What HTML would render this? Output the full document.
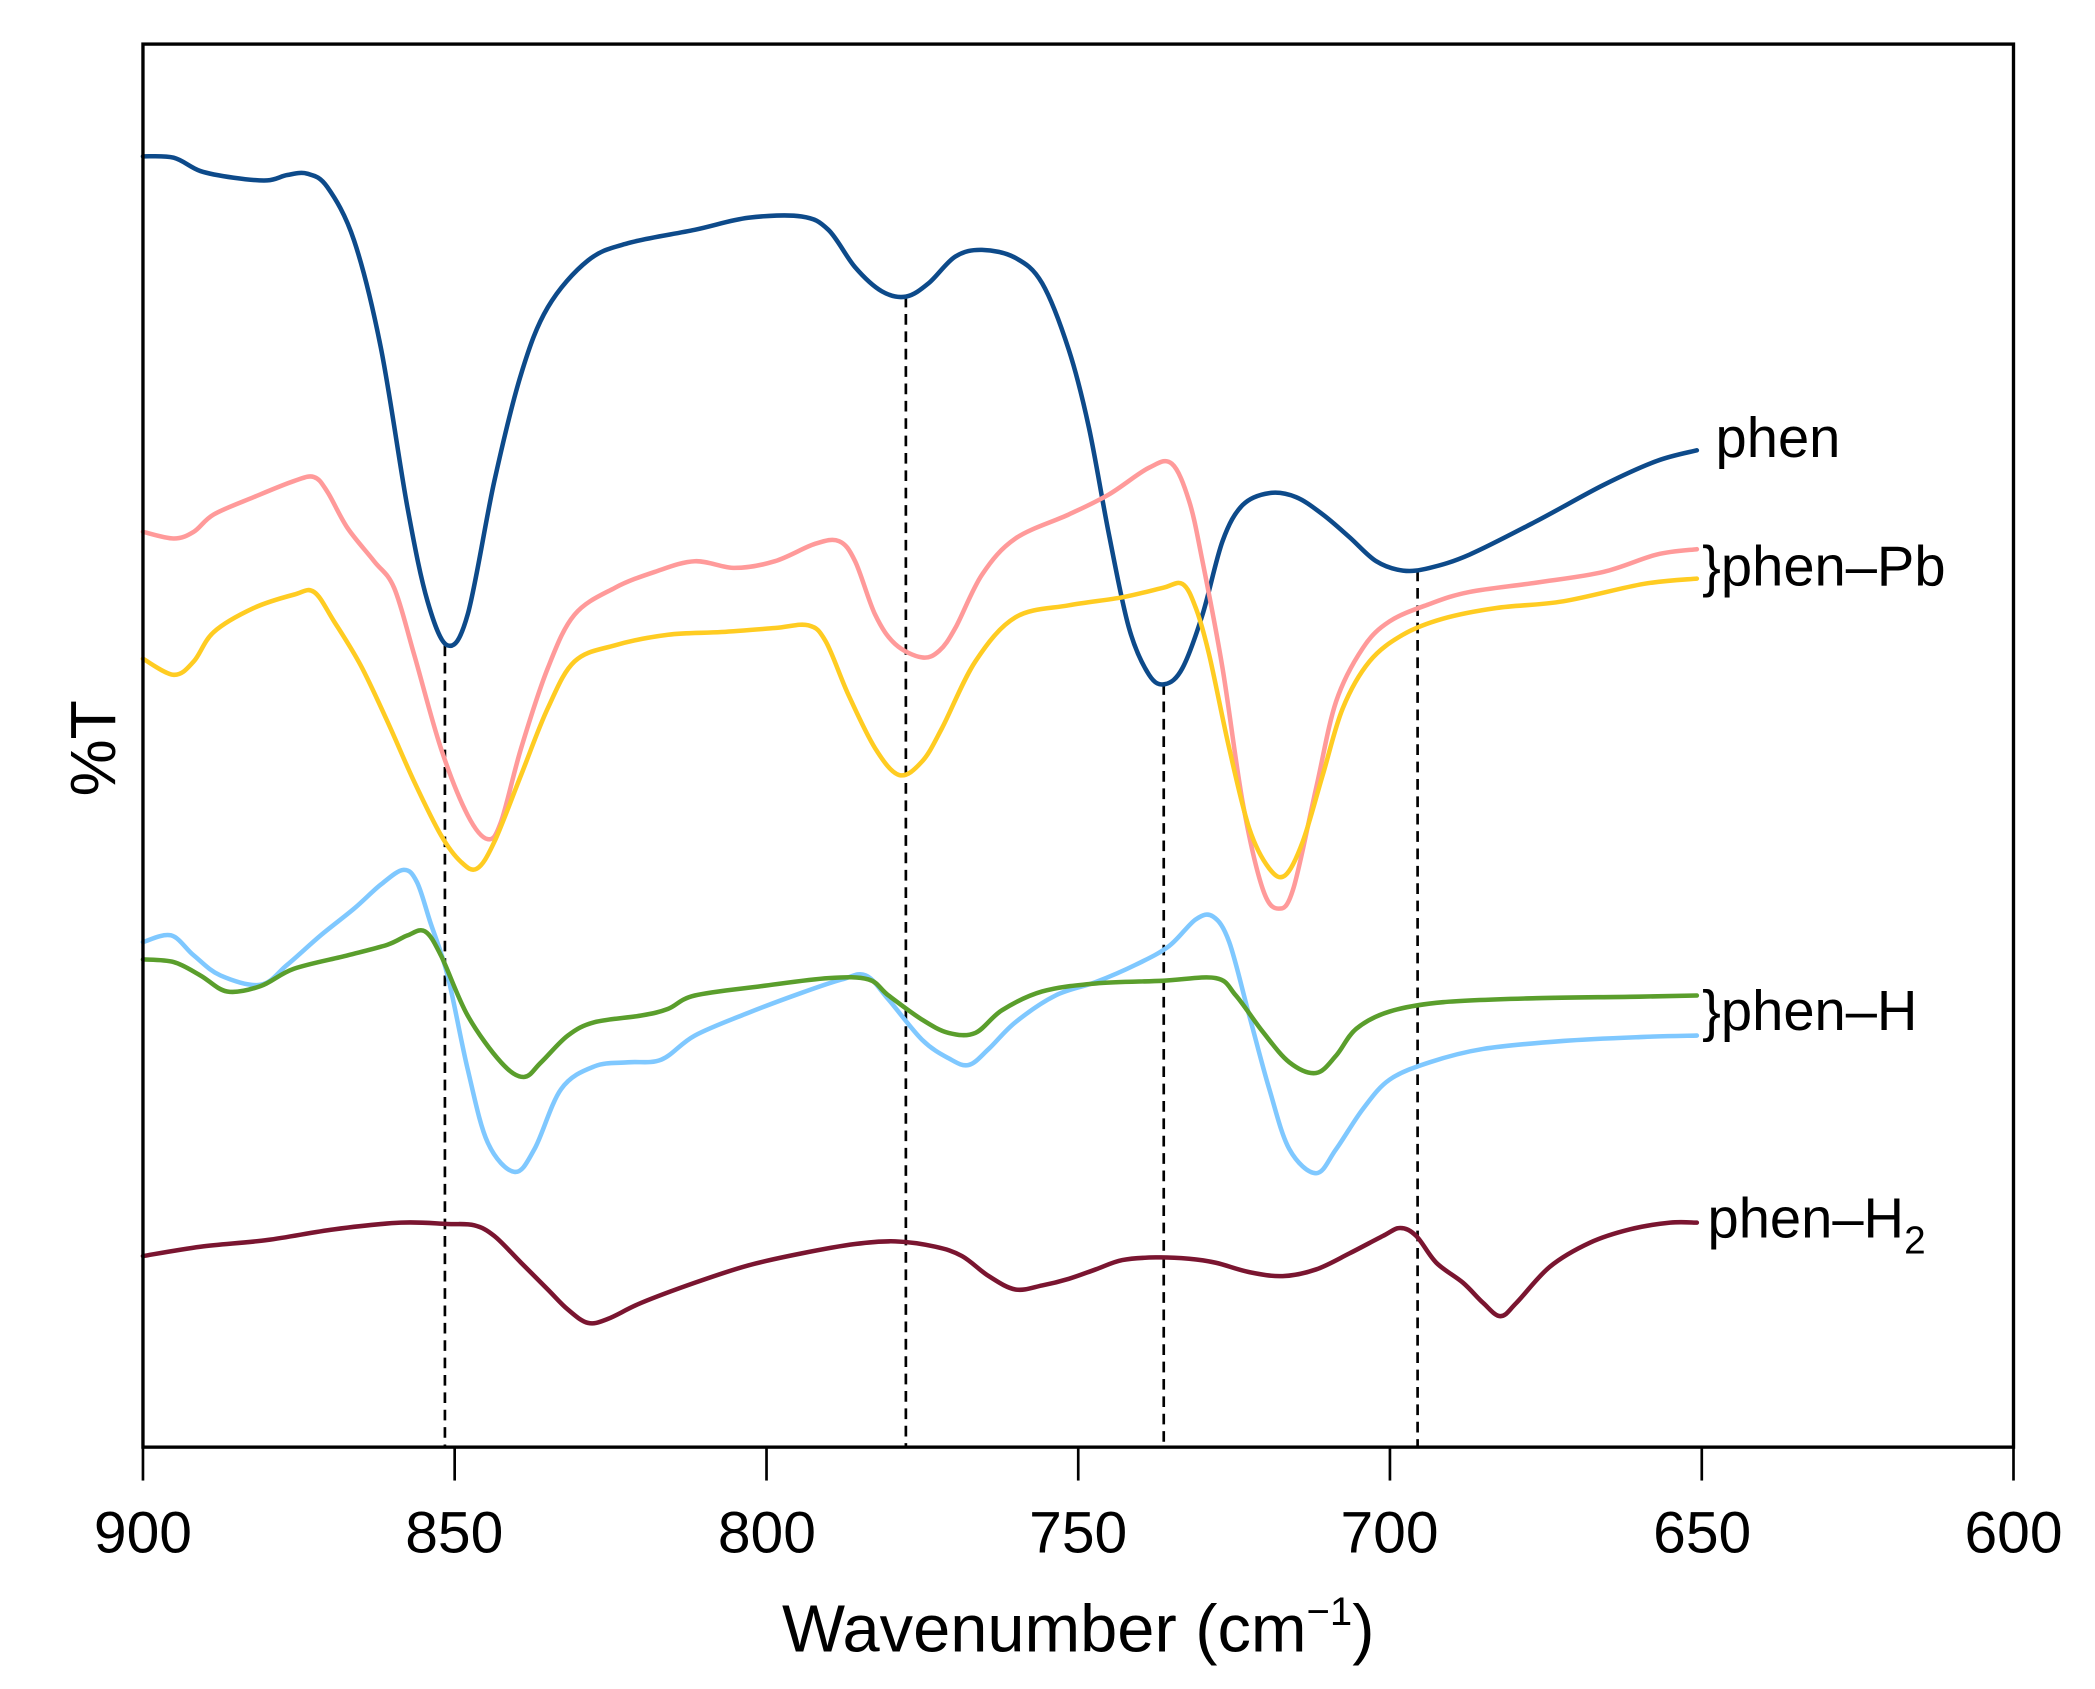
<!DOCTYPE html>
<html><head><meta charset="utf-8"><style>
html,body{margin:0;padding:0;background:#fff;}
svg{display:block;}
text{font-family:"Liberation Sans",Arial,sans-serif;fill:#000;}
</style></head><body>
<svg id="s" width="2095" height="1689" viewBox="0 0 1568 1264" preserveAspectRatio="none" xmlns="http://www.w3.org/2000/svg">
<rect x="0" y="0" width="1568" height="1264" fill="#fff"/>
<g stroke="#000" stroke-width="2" stroke-dasharray="8,5" fill="none">
<line x1="333" y1="483" x2="333" y2="1083"/>
<line x1="678" y1="222" x2="678" y2="1083"/>
<line x1="871" y1="512" x2="871" y2="1083"/>
<line x1="1061" y1="427" x2="1061" y2="1083"/>
</g>
<g id="curves" fill="none" stroke-width="3.4" stroke-linejoin="round" stroke-linecap="round"></g>
<rect x="107" y="33" width="1400" height="1050" fill="none" stroke="#000" stroke-width="2.5"/>
<g stroke="#000" stroke-width="2">
<line x1="107" y1="1083" x2="107" y2="1108"/><line x1="340.3" y1="1083" x2="340.3" y2="1108"/>
<line x1="573.7" y1="1083" x2="573.7" y2="1108"/><line x1="807" y1="1083" x2="807" y2="1108"/>
<line x1="1040.3" y1="1083" x2="1040.3" y2="1108"/><line x1="1273.7" y1="1083" x2="1273.7" y2="1108"/>
<line x1="1507" y1="1083" x2="1507" y2="1108"/>
</g>
<g font-size="44" text-anchor="middle">
<text x="107" y="1162">900</text><text x="340" y="1162">850</text><text x="574" y="1162">800</text>
<text x="807" y="1162">750</text><text x="1040" y="1162">700</text><text x="1274" y="1162">650</text>
<text x="1507" y="1162">600</text>
</g>
<text x="807" y="1236" font-size="50" text-anchor="middle">Wavenumber (cm<tspan dy="-20" font-size="30">−1</tspan><tspan dy="20">)</tspan></text>
<text transform="translate(86,560) rotate(-90)" font-size="48" text-anchor="middle">%T</text>
<g font-size="42">
<text x="1284" y="342">phen</text>
<text x="1274" y="438">}phen–Pb</text>
<text x="1274" y="771">}phen–H</text>
<text x="1278" y="926">phen–H<tspan dy="12" font-size="29">2</tspan></text>
</g>
</svg>
<script>
var data=[
["#0d4a8a",[[107,117],[130,118],[150,128],[175,133],[200,135],[215,131],[230,130],[245,140],[265,180],[285,260],[305,380],[320,450],[335,483],[350,460],[370,360],[390,280],[410,230],[440,195],[470,182],[520,172],[560,163],[600,162],[620,172],[640,200],[660,218],[678,222],[695,212],[715,192],[735,187],[760,193],[780,212],[800,262],[815,320],[830,400],[845,470],[860,505],[872,512],[885,500],[900,460],[915,405],[930,378],[950,369],[970,372],[990,385],[1010,402],[1030,420],[1050,427],[1070,425],[1100,415],[1150,390],[1200,363],[1240,345],[1270,337]]],
["#ff9a9a",[[107,398],[130,403],[145,398],[160,385],[190,372],[220,360],[235,357],[245,368],[260,395],[280,420],[295,440],[310,490],[330,560],[350,610],[365,628],[375,615],[390,560],[410,500],[430,460],[460,440],[490,428],[520,420],[550,425],[580,420],[610,407],[628,405],[640,420],[655,460],[670,482],[690,492],[703,487],[715,470],[735,430],[760,403],[800,385],[830,370],[860,350],[877,347],[890,375],[900,420],[915,500],[930,600],[945,665],[957,680],[968,665],[985,590],[1000,525],[1020,485],[1040,465],[1070,452],[1100,443],[1150,436],[1200,428],[1240,415],[1270,411]]],
["#ffcc22",[[107,493],[130,505],[145,495],[160,473],[190,455],[220,445],[235,443],[250,465],[270,498],[290,540],[310,585],[330,625],[345,645],[357,650],[370,630],[390,580],[410,530],[430,495],[460,483],[500,475],[540,473],[580,470],[605,468],[618,480],[635,520],[655,560],[673,580],[690,570],[705,545],[730,495],[760,462],[800,453],[840,447],[870,440],[885,437],[895,455],[905,490],[920,560],[935,620],[950,650],[962,655],[975,630],[990,580],[1005,530],[1025,495],[1050,475],[1080,463],[1120,455],[1170,450],[1230,437],[1270,433]]],
["#7fc8ff",[[107,705],[128,700],[145,715],[165,730],[195,737],[215,722],[240,700],[265,680],[285,662],[302,651],[312,660],[322,690],[335,730],[350,800],[365,855],[385,877],[400,860],[420,815],[445,798],[470,795],[495,793],[520,775],[560,758],[600,743],[630,733],[648,730],[665,748],[690,778],[710,792],[725,797],[740,785],[760,765],[790,745],[820,735],[850,722],[875,708],[895,688],[908,686],[920,705],[935,760],[950,815],[965,860],[985,878],[1000,860],[1020,830],[1040,808],[1070,795],[1110,785],[1170,779],[1230,776],[1270,775]]],
["#5a9e2c",[[107,718],[130,720],[150,730],[170,742],[195,738],[220,725],[260,715],[290,707],[305,700],[318,697],[330,715],[350,760],[375,795],[392,806],[405,795],[425,775],[445,765],[480,760],[500,755],[520,745],[570,738],[620,732],[650,733],[665,745],[690,763],[710,773],[730,773],[750,756],[780,742],[820,736],[870,734],[910,732],[925,745],[945,772],[965,795],[985,803],[1000,790],[1015,770],[1040,757],[1080,750],[1150,747],[1220,746],[1270,745]]],
["#7a1530",[[107,940],[150,933],[200,928],[250,920],[300,915],[335,916],[355,917],[370,925],[390,945],[410,965],[425,980],[440,990],[455,987],[480,975],[520,960],[560,947],[600,938],[640,931],[670,929],[700,933],[720,940],[740,955],[760,965],[780,962],[800,957],[820,950],[840,943],[865,941],[890,942],[910,945],[935,952],[960,955],[985,950],[1010,938],[1035,925],[1048,919],[1060,925],[1075,945],[1095,960],[1110,975],[1123,985],[1135,975],[1160,948],[1190,930],[1220,920],[1250,915],[1270,915]]]
];
var g=document.getElementById("curves"),ns="http://www.w3.org/2000/svg";
data.forEach(function(d){var p=d[1],s="M"+p[0][0]+","+p[0][1];
for(var i=0;i<p.length-1;i++){var a=p[i-1]||p[i],b=p[i],c=p[i+1],e=p[i+2]||c;
s+=" C"+(b[0]+(c[0]-a[0])/6)+","+(b[1]+(c[1]-a[1])/6)+" "+(c[0]-(e[0]-b[0])/6)+","+(c[1]-(e[1]-b[1])/6)+" "+c[0]+","+c[1];}
var el=document.createElementNS(ns,"path");el.setAttribute("d",s);el.setAttribute("stroke",d[0]);g.appendChild(el);});
</script>
</body></html>
